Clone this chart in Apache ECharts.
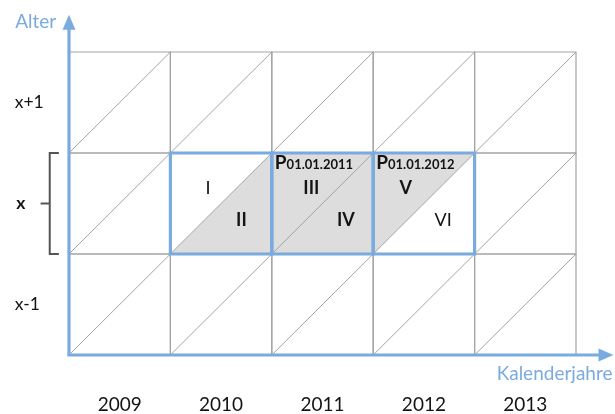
<!DOCTYPE html>
<html>
<head>
<meta charset="utf-8">
<script src="https://cdn.jsdelivr.net/npm/echarts@6/dist/echarts.min.js"></script>
<style>html,body{margin:0;padding:0;background:#fff}#c{width:615px;height:414px}</style>
</head>
<body>
<div id="c"></div>
<script>
// ---- data ----
const years = [2009, 2010, 2011, 2012, 2013];
const ageLabels = ['x-1', 'x', 'x+1'];
const shaded = [[2010, 1, 'lower'], [2011, 1, 'full'], [2012, 1, 'upper']];
const boxes = [[2010, 1], [2011, 1], [2012, 1]];
const segLabels = ['I', 'II', 'III', 'IV', 'V', 'VI'];
const segBold = [false, true, true, true, true, false];
const stockLabels = [['2011', '01.01.2011'], ['2012', '01.01.2012']];
const axisNames = ['Alter', 'Kalenderjahre'];

// ---- styles ----
const BLUE = '#7aabdf';
const GRAY = '#a3a3a3';
const FILL = '#dddddd';
const FONT = 'Lato, "Noto Sans", sans-serif';
const INK = '#141414';

const cells = [];
years.forEach(y => ageLabels.forEach((a, i) => cells.push([y, i])));
const yMin = years[0], yMax = years[years.length - 1] + 1;
const aMax = ageLabels.length;

const chart = echarts.init(document.getElementById('c'));

function cellRender(params, api) {
  const x = api.value(0), y = api.value(1);
  const p0 = api.coord([x, y]), p1 = api.coord([x + 1, y + 1]);
  return {
    type: 'group', children: [
      { type: 'rect', shape: { x: p0[0], y: p1[1], width: p1[0] - p0[0], height: p0[1] - p1[1] }, style: { fill: 'none', stroke: GRAY, lineWidth: 1.2 } },
      { type: 'line', shape: { x1: p0[0], y1: p0[1], x2: p1[0], y2: p1[1] }, style: { stroke: GRAY, lineWidth: 1 } }
    ]
  };
}

function shadeRender(params, api) {
  const x = api.value(0), y = api.value(1);
  const kind = shaded[params.dataIndex][2];
  const bl = api.coord([x, y]), br = api.coord([x + 1, y]), tr = api.coord([x + 1, y + 1]), tl = api.coord([x, y + 1]);
  let pts;
  if (kind === 'lower') pts = [bl, br, tr];
  else if (kind === 'upper') pts = [bl, tl, tr];
  else pts = [bl, br, tr, tl];
  return { type: 'polygon', shape: { points: pts }, style: { fill: FILL } };
}

function boxRender(params, api) {
  const x = api.value(0), y = api.value(1);
  const p0 = api.coord([x, y]), p1 = api.coord([x + 1, y + 1]);
  return { type: 'rect', shape: { x: p0[0], y: p1[1], width: p1[0] - p0[0], height: p0[1] - p1[1] }, style: { fill: 'none', stroke: BLUE, lineWidth: 3.2 } };
}

function decoRender(params, api) {
  if (params.dataIndex !== 0) return null;
  const o = api.coord([yMin, 0]);
  const top = api.coord([yMin, aMax + 0.37]);
  const right = api.coord([yMax + 0.37, 0]);
  const children = [];
  // axes with arrows
  children.push({ type: 'line', shape: { x1: o[0], y1: o[1], x2: top[0], y2: top[1] + 12 }, style: { stroke: BLUE, lineWidth: 3.2 } });
  children.push({ type: 'polygon', shape: { points: [[top[0], top[1]], [top[0] - 6.5, top[1] + 15], [top[0] + 6.5, top[1] + 15]] }, style: { fill: BLUE } });
  children.push({ type: 'line', shape: { x1: o[0] - 1.6, y1: o[1], x2: right[0] - 12, y2: right[1] }, style: { stroke: BLUE, lineWidth: 3.2 } });
  children.push({ type: 'polygon', shape: { points: [[right[0], right[1]], [right[0] - 15, right[1] - 6.5], [right[0] - 15, right[1] + 6.5]] }, style: { fill: BLUE } });
  // bracket for age x
  const bTop = api.coord([yMin - 0.19, 2]), bBot = api.coord([yMin - 0.19, 1]);
  const sx = api.coord([yMin - 0.1, 1])[0];
  const mid = api.coord([yMin - 0.28, 1.5]);
  children.push({ type: 'polyline', shape: { points: [[sx, bTop[1]], [bTop[0], bTop[1]], [bBot[0], bBot[1]], [sx, bBot[1]]] }, style: { stroke: '#555', lineWidth: 2, fill: 'none' } });
  children.push({ type: 'line', shape: { x1: mid[0], y1: mid[1], x2: bTop[0], y2: mid[1] }, style: { stroke: '#555', lineWidth: 2 } });
  // axis names
  const an = api.coord([yMin - 0.53, aMax + 0.3]);
  children.push({ type: 'text', x: an[0], y: an[1], style: { text: axisNames[0], font: '19px ' + FONT, fill: BLUE, align: 'left', verticalAlign: 'middle' } });
  const kn = api.coord([yMax + 0.36, -0.19]);
  children.push({ type: 'text', x: kn[0], y: kn[1], style: { text: axisNames[1], font: '19px ' + FONT, fill: BLUE, align: 'right', verticalAlign: 'middle' } });
  // year labels
  years.forEach(yr => {
    const p = api.coord([yr + 0.5, -0.49]);
    children.push({ type: 'text', x: p[0], y: p[1], style: { text: String(yr), font: '19px ' + FONT, fill: INK, align: 'center', verticalAlign: 'middle' } });
  });
  // age labels
  ageLabels.forEach((a, i) => {
    const bold = (a === 'x');
    const p = api.coord([yMin - (bold ? 0.52 : 0.535), i + 0.5]);
    children.push({ type: 'text', x: p[0], y: p[1], style: { text: a, font: (bold ? 'bold ' : '') + '17.5px ' + FONT, fill: INK, align: 'left', verticalAlign: 'middle' } });
  });
  // segment labels (two per highlighted year)
  segLabels.forEach((s, i) => {
    const b = boxes[Math.floor(i / 2)];
    const offs = [[0.37, 0.65], [0.70, 0.33], [0.39, 0.65], [0.73, 0.33], [0.32, 0.65], [0.69, 0.33]][i];
    const p = api.coord([b[0] + offs[0], b[1] + offs[1]]);
    children.push({ type: 'text', x: p[0], y: p[1], style: { text: s, font: (segBold[i] ? 'bold ' : '') + '18px ' + FONT, fill: INK, align: 'center', verticalAlign: 'middle' } });
  });
  // stock labels
  stockLabels.forEach(sl => {
    const p = api.coord([Number(sl[0]) + 0.03, 1.9]);
    children.push({ type: 'text', x: p[0], y: p[1], style: { text: '{a|P}{b|' + sl[1] + '}', align: 'left', verticalAlign: 'middle', rich: { a: { font: 'bold 19px ' + FONT, fill: INK, verticalAlign: 'bottom' }, b: { font: 'bold 13px ' + FONT, fill: INK, verticalAlign: 'bottom', padding: [0, 0, 1, 0] } } } });
  });
  return { type: 'group', children };
}

chart.setOption({
  animation: false,
  grid: { left: 69, right: 39, top: 52, bottom: 59 },
  xAxis: { type: 'value', min: yMin, max: yMax, show: false },
  yAxis: { type: 'value', min: 0, max: aMax, show: false },
  series: [
    { type: 'custom', renderItem: shadeRender, data: shaded.map(s => [s[0], s[1]]), clip: false, silent: true, z: 1 },
    { type: 'custom', renderItem: cellRender, data: cells, clip: false, silent: true, z: 2 },
    { type: 'custom', renderItem: boxRender, data: boxes, clip: false, silent: true, z: 3 },
    { type: 'custom', renderItem: decoRender, data: [[yMin, 0]], clip: false, silent: true, z: 4 }
  ]
});
</script>
</body>
</html>
